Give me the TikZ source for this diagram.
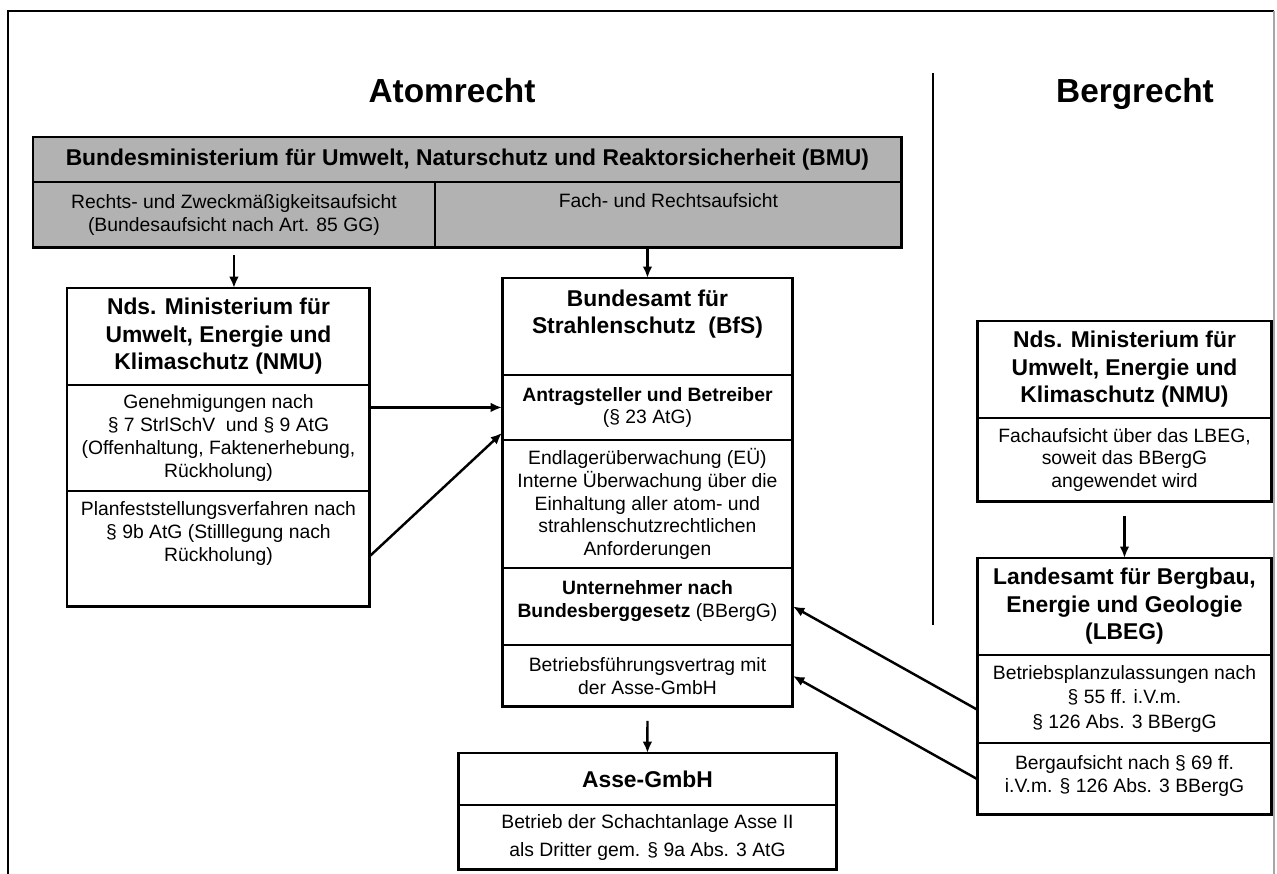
\documentclass[tikz,border=0pt]{standalone}
\usepackage{fontspec}
\setmainfont{Liberation Sans}
\usetikzlibrary{positioning,arrows.meta}

\definecolor{bmugray}{RGB}{178,178,178}
\newcommand{\tief}[1]{\rule[-#1]{0pt}{0pt}}

\tikzset{
  cell/.style={rectangle, draw, line width=1pt, outer sep=0pt, inner sep=0pt,
    align=center, font=\fontsize{11}{13}\selectfont},
  head/.style={cell, font=\bfseries\fontsize{13}{15.6}\selectfont},
  titel/.style={font=\bfseries\fontsize{19}{22}\selectfont},
  outline/.style={line width=1.7pt},
  arr/.style={line width=1.4pt, -{Latex[length=6.5pt,width=5.5pt]}}
}

\begin{document}
\begin{tikzpicture}[x=0.02cm, y=-0.02cm]
  \useasboundingbox (0,0) rectangle (1277,874);
  \draw[line width=1.6pt] (8,874) -- (8,11) -- (1274,11);
  \draw[line width=0.8pt, black!35] (1274,11) -- (1274,874);

  \node[titel, anchor=base] (atom) at (452,103) {Atomrecht};
  \node[titel, anchor=base] (berg) at (1135,103) {Bergrecht};
  \coordinate (trenno) at (933,73);
  \coordinate (trennu) at (933,625);
  \draw[line width=1.6pt] (trenno) -- (trennu);

  % BMU
  \node[head, fill=bmugray, anchor=north west, minimum width=17.38cm, minimum height=0.9cm] (bmu) at (33,137)
    {Bundesministerium für Umwelt, Naturschutz und Reaktorsicherheit (BMU)};
  \node[cell, fill=bmugray, anchor=north west, minimum width=8.04cm, minimum height=1.32cm] (bmul) at (bmu.south west)
    {Rechts- und Zweckmäßigkeitsaufsicht\\(Bundesaufsicht nach Art. 85 GG)};
  \node[cell, fill=bmugray, anchor=north west, minimum width=9.34cm, minimum height=1.32cm] (bmur) at (bmul.north east)
    {Fach- und Rechtsaufsicht\tief{16pt}};
  \draw[outline] (bmu.north west) rectangle (bmur.south east);

  % NMU (Atomrecht)
  \node[head, anchor=north west, minimum width=6.06cm, minimum height=1.94cm] (nmu) at (67,288)
    {Nds. Ministerium für\\Umwelt, Energie und\\Klimaschutz (NMU)};
  \node[cell, below=0pt of nmu, minimum width=6.06cm, minimum height=2.12cm] (nmuga)
    {Genehmigungen nach\\§ 7 StrlSchV\ \ und § 9 AtG\\(Offenhaltung, Faktenerhebung,\\Rückholung)};
  \node[cell, below=0pt of nmuga, minimum width=6.06cm, minimum height=2.32cm] (nmupf)
    {Planfeststellungsverfahren nach\\§ 9b AtG (Stilllegung nach\\Rückholung)\tief{20pt}};
  \draw[outline] (nmu.north west) rectangle (nmupf.south east);

  % BfS
  \node[head, anchor=north west, minimum width=5.82cm, minimum height=1.94cm] (bfs) at (502,278)
    {Bundesamt für\\Strahlenschutz\ \ (BfS)\tief{17pt}};
  \node[cell, below=0pt of bfs, minimum width=5.82cm, minimum height=1.3cm] (bfsab)
    {\textbf{Antragsteller und Betreiber}\\(§ 23 AtG)};
  \node[cell, below=0pt of bfsab, minimum width=5.82cm, minimum height=2.56cm] (bfseu)
    {Endlagerüberwachung (EÜ)\\Interne Überwachung über die\\Einhaltung aller atom- und\\strahlenschutzrechtlichen\\Anforderungen};
  \node[cell, below=0pt of bfseu, minimum width=5.82cm, minimum height=1.54cm] (bfsun)
    {\textbf{Unternehmer nach}\\\textbf{Bundesberggesetz} (BBergG)\tief{8pt}};
  \node[cell, below=0pt of bfsun, minimum width=5.82cm, minimum height=1.24cm] (bfsbv)
    {Betriebsführungsvertrag mit\\der Asse-GmbH};
  \draw[outline] (bfs.north west) rectangle (bfsbv.south east);

  % Asse-GmbH
  \node[head, anchor=north west, minimum width=7.58cm, minimum height=1.04cm] (asse) at (458,753)
    {Asse-GmbH};
  \node[cell, below=0pt of asse, minimum width=7.58cm, minimum height=1.3cm,
    font=\fontsize{11}{16.4}\selectfont] (asseb)
    {Betrieb der Schachtanlage Asse II\\als Dritter gem. § 9a Abs. 3 AtG};
  \draw[outline] (asse.north west) rectangle (asseb.south east);

  % NMU (Bergrecht)
  \node[head, anchor=north west, minimum width=5.9cm, minimum height=1.94cm] (nmur) at (977,321)
    {Nds. Ministerium für\\Umwelt, Energie und\\Klimaschutz (NMU)};
  \node[cell, below=0pt of nmur, minimum width=5.9cm, minimum height=1.68cm] (nmurfa)
    {Fachaufsicht über das LBEG,\\soweit das BBergG\\angewendet wird};
  \draw[outline] (nmur.north west) rectangle (nmurfa.south east);

  % LBEG
  \node[head, anchor=north west, minimum width=5.9cm, minimum height=1.94cm] (lbeg) at (977,558)
    {Landesamt für Bergbau,\\Energie und Geologie\\(LBEG)};
  \node[cell, below=0pt of lbeg, minimum width=5.9cm, minimum height=1.76cm,
    font=\fontsize{11}{14}\selectfont] (lbegbp)
    {Betriebsplanzulassungen nach\\§ 55 ff. i.V.m.\\§ 126 Abs. 3 BBergG};
  \node[cell, below=0pt of lbegbp, minimum width=5.9cm, minimum height=1.44cm] (lbegba)
    {Bergaufsicht nach § 69 ff.\\i.V.m. § 126 Abs. 3 BBergG\tief{6pt}};
  \draw[outline] (lbeg.north west) rectangle (lbegba.south east);

  % Pfeile
  \draw[arr] ([yshift=-4pt]bmul.south) -- (bmul.south |- nmu.north);
  \draw[arr] (bmur.south -| bfs.north) -- (bfs.north);
  \draw[arr] (nmuga.east |- bfsab.west) -- (bfsab.west);
  \draw[arr] ([yshift=-4pt]nmupf.east) -- ([yshift=4pt]bfsab.south west);
  \draw[arr] ([yshift=-8pt]nmurfa.south) -- (lbeg.north);
  \draw[arr] ([yshift=-6pt]lbegbp.west) -- (bfsun.east);
  \draw[arr] (lbegba.west) -- (bfsbv.east);
  \draw[arr] ([yshift=-8pt]bfsbv.south) -- (asse.north);
\end{tikzpicture}
\end{document}
